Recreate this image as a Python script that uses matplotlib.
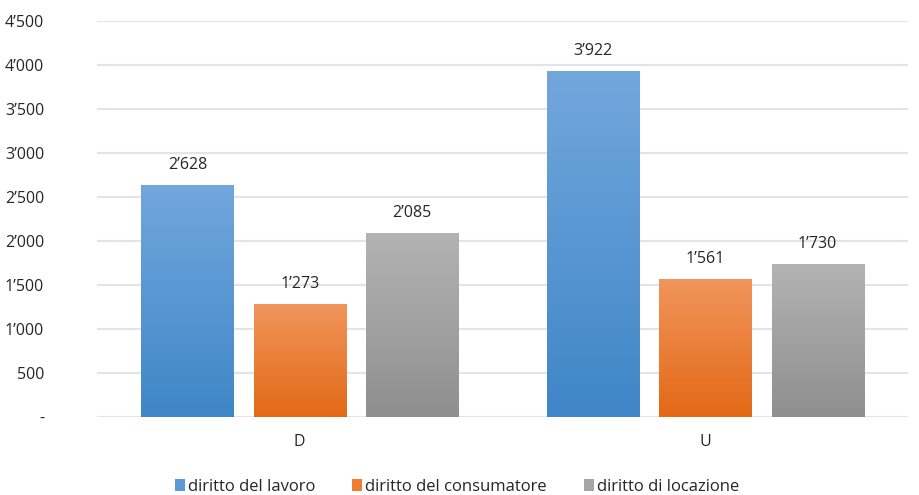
import numpy as np
import matplotlib.pyplot as plt
from matplotlib.colors import LinearSegmentedColormap
from matplotlib.ticker import FuncFormatter

plt.rcParams['font.family'] = ['Open Sans', 'DejaVu Sans']

# data
groups = ['D', 'U']
series = ['diritto del lavoro', 'diritto del consumatore', 'diritto di locazione']
lavoro = [2628, 3922]
consumatore = [1273, 1561]
locazione = [2085, 1730]
values = [lavoro, consumatore, locazione]

# gradient colours (top, bottom)
grads = [('#72a7dd', '#3f86c7'), ('#f1955c', '#e36916'), ('#b3b3b3', '#8f8f8f')]
solid = ['#5b9bd5', '#ed7d31', '#a5a5a5']


def fmt(v, pos=None):
    if v == 0:
        return '-'
    return f'{int(v):,}'.replace(',', '\u2019')


fig = plt.figure(figsize=(9.19, 4.95), dpi=100)
ax = fig.add_axes([0.1055, 0.1576, 0.8825, 0.8])

x = np.arange(len(groups))
w = 0.227
step = 0.277

for i, (name, vals) in enumerate(zip(series, values)):
    bars = ax.bar(x + (i - 1) * step, vals, w, color=solid[i], label=name, zorder=2)
    cmap = LinearSegmentedColormap.from_list('g', [grads[i][1], grads[i][0]])
    for b in bars:
        bx, bw, bh = b.get_x(), b.get_width(), b.get_height()
        grad = np.linspace(0, 1, 256).reshape(-1, 1)
        ax.imshow(grad, cmap=cmap, origin='lower', aspect='auto',
                  extent=[bx, bx + bw, 0, bh], zorder=3)
        ax.annotate(fmt(bh), (bx + bw / 2, bh), xytext=(0, 9),
                    textcoords='offset points', ha='center', va='bottom',
                    fontsize=11.5, color='#262626')

ax.set_xlim(-0.5, 1.5)
ax.set_ylim(0, 4500)
ax.set_yticks(np.arange(0, 4501, 500))
ax.yaxis.set_major_formatter(FuncFormatter(fmt))
ax.set_xticks(x)
ax.set_xticklabels(groups)
ax.tick_params(axis='y', length=0, pad=38, labelsize=11.5, labelcolor='#262626')
ax.tick_params(axis='x', length=0, pad=12, labelsize=11.5, labelcolor='#262626')
ax.grid(axis='y', color='#e1e4e9', linewidth=1.5, zorder=0)
ax.set_axisbelow(True)
for s in ax.spines.values():
    s.set_visible(False)

ax.legend(loc='upper center', bbox_to_anchor=(0.444, -0.118), ncol=3, frameon=False,
          fontsize=12, handlelength=0.6, handleheight=0.75, handletextpad=0.2,
          columnspacing=2.2, labelcolor='#262626')

fig.savefig('out.png', dpi=100)
